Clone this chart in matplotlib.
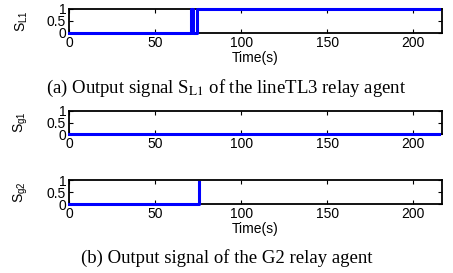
import numpy as np
import matplotlib
matplotlib.use("Agg")
import matplotlib.pyplot as plt

# signal data
t_L1 = [0, 71, 71, 71.8, 71.8, 74.6, 74.6, 215]
s_L1 = [0, 0, 1, 1, 0, 0, 1, 1]
t_g1 = [0, 215]
s_g1 = [0, 0]
t_g2 = [0, 75.5, 75.5]
s_g2 = [0, 0, 0.9]

xticks = [0, 50, 100, 150, 200]
yticks = [0, 0.5, 1]
ytick_labels = ["0", "0.5", "1"]

plt.rcParams['font.family'] = ['Liberation Sans', 'DejaVu Sans']
plt.rcParams['font.size'] = 10
plt.rcParams['mathtext.fontset'] = 'custom'
plt.rcParams['mathtext.rm'] = 'Liberation Sans'
plt.rcParams['mathtext.it'] = 'Liberation Sans:italic'

fig = plt.figure(figsize=(4.53, 2.73), dpi=100)

W = 453.0
H = 273.0
left = 69 / W
width = (441.7 - 69) / W

def make_ax(top_px, bot_px):
    ax = fig.add_axes([left, 1 - bot_px / H, width, (bot_px - top_px) / H])
    ax.set_xlim(0, 216.5)
    ax.set_ylim(0, 1)
    ax.set_xticks(xticks)
    ax.set_yticks(yticks)
    ax.set_yticklabels(ytick_labels)
    ax.tick_params(direction='in', length=3, width=0.8, top=True, right=True,
                   pad=2, labelsize=10)
    for sp in ax.spines.values():
        sp.set_linewidth(1.3)
    return ax

ax1 = make_ax(9, 33)
ax1.plot(t_L1, s_L1, color='#0000ff', lw=2.2, clip_on=False, zorder=3)
ax1.set_ylabel(r'S$_{\rm L1}$', labelpad=1)
ax1.set_xlabel('Time(s)', labelpad=1)

ax2 = make_ax(111, 134)
ax2.plot(t_g1, s_g1, color='#0000ff', lw=2.2, clip_on=False, zorder=3)
ax2.set_ylabel(r'S$_{\rm g1}$', labelpad=1)

ax3 = make_ax(180, 204)
ax3.plot(t_g2, s_g2, color='#0000ff', lw=2.2, clip_on=False, zorder=3)
ax3.set_ylabel(r'S$_{\rm g2}$', labelpad=1)
ax3.set_xlabel('Time(s)', labelpad=1)

for ax in (ax1, ax2, ax3):
    ax.yaxis.set_label_coords(-0.105, 0.5)

serif = ['Liberation Serif', 'DejaVu Serif']
fig.text(0.5, 1 - 88 / H, r'(a) Output signal S$_{\rm L1}$ of the lineTL3 relay agent',
         ha='center', va='center', family=serif, fontsize=13.5,
         math_fontfamily='stix')
fig.text(0.5, 1 - 258 / H, '(b) Output signal of the G2 relay agent',
         ha='center', va='center', family=serif, fontsize=13.5)

fig.savefig('out.png', dpi=100)
